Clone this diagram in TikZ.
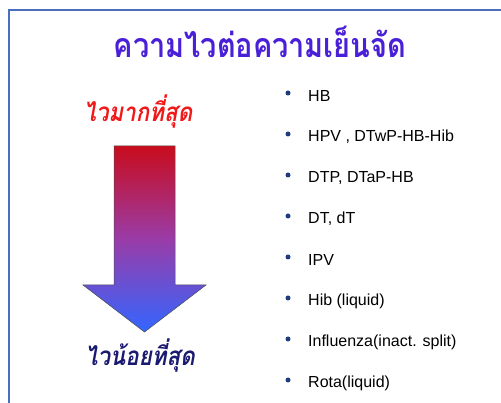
\documentclass[tikz,border=0pt]{standalone}
\usepackage{fontspec}
\setmainfont{Liberation Sans}
\newfontfamily\thaifont[Script=Thai]{Loma}
\definecolor{framecol}{HTML}{4A6FC0}
\definecolor{titlecol}{HTML}{4A1FD8}
\definecolor{hotred}{HTML}{F01818}
\definecolor{navy}{HTML}{1A1A70}
\definecolor{bulletcol}{HTML}{1F3C80}
\definecolor{arrtop}{HTML}{C80C1C}
\definecolor{arrmid}{HTML}{9A3CA8}
\definecolor{arrbot}{HTML}{3366FF}
\tikzset{
  item/.style={anchor=west, inner sep=0pt, font=\fontsize{16}{19}\selectfont, text=black},
  bulletdot/.style={circle, fill=bulletcol, inner sep=0pt, minimum size=5pt},
  thailabel/.style={inner sep=0pt, xscale=0.86, transform shape, font=\thaifont\bfseries\itshape\fontsize{26}{30}\selectfont}
}
\begin{document}
\begin{tikzpicture}[x=1pt,y=-1pt]
\useasboundingbox (0,0) rectangle (501,403);
\fill[white] (0,0) rectangle (501,403);
\draw[framecol, line width=1.2pt] (9,420) -- (9,10) -- (520,10);
\node[inner sep=0pt, xscale=0.85, transform shape, text=titlecol, font=\thaifont\bfseries\fontsize{34}{40}\selectfont] (title) at (260,42) {ความไวต่อความเย็นจัด};
\node[thailabel, text=hotred] (most) at (138,112) {ไวมากที่สุด};
\node[thailabel, text=navy] (least) at (140,356) {ไวน้อยที่สุด};
\shade[top color=arrtop, bottom color=arrbot, middle color=arrmid]
  (114,146) -- (175,146) -- (175,285) -- (206,285) -- (144.5,332) -- (83,285) -- (114,285) -- cycle;
\draw[black!70, line width=0.5pt]
  (114,146) -- (175,146) -- (175,285) -- (206,285) -- (144.5,332) -- (83,285) -- (114,285) -- cycle;
\foreach \t [count=\i] in {HB, {HPV , DTwP-HB-Hib}, {DTP, DTaP-HB}, {DT, dT}, IPV, {Hib (liquid)}, {Influenza(inact. split)}, {Rota(liquid)}} {
  \node[bulletdot] (b\i) at (288, 55+41*\i-3) {};
  \node[item] (t\i) at (308, 55+41*\i) {\t};
}
\end{tikzpicture}
\end{document}
